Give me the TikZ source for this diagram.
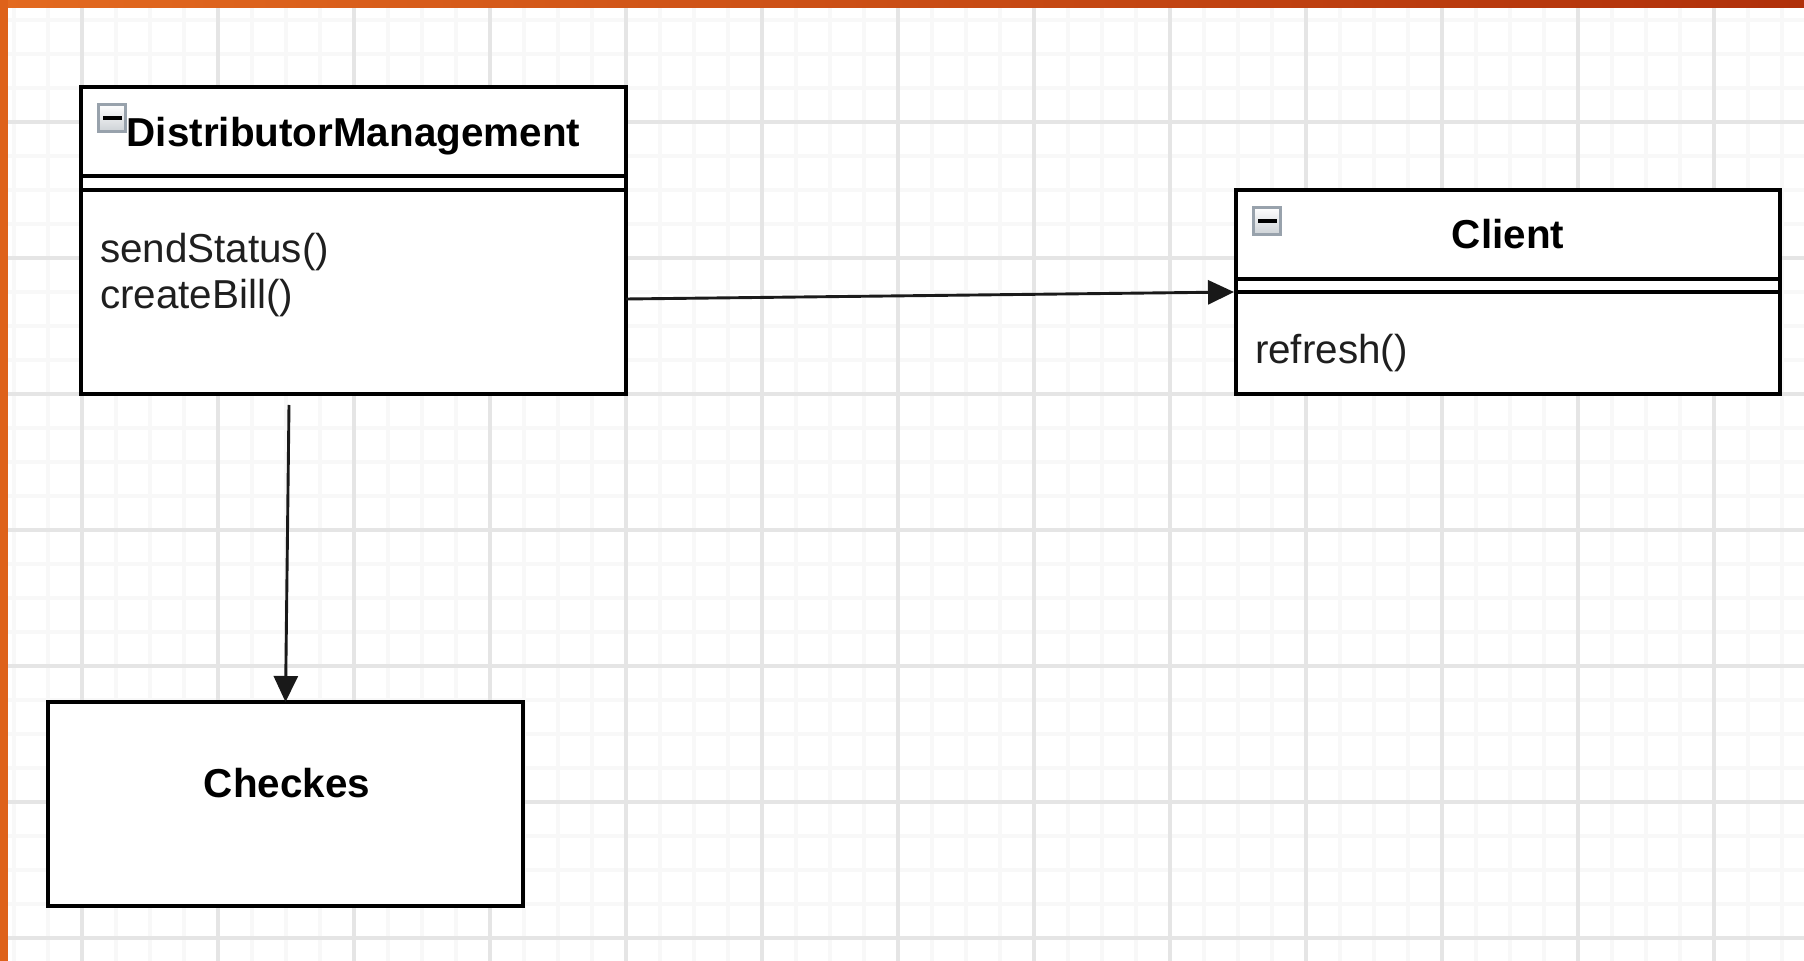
\documentclass[tikz,border=0pt]{standalone}
\usepackage{fontspec}
\setmainfont{Liberation Sans}
\usetikzlibrary{arrows.meta,calc}
\definecolor{gridmajor}{HTML}{E5E5E5}
\definecolor{gridminor}{HTML}{F8F8F8}
\definecolor{orangeA}{HTML}{E36A20}
\definecolor{orangeB}{HTML}{B0300A}
\definecolor{orangeL}{HTML}{DE621A}
\definecolor{iconborder}{HTML}{98A2AC}
\definecolor{iconlow}{HTML}{CDD2D6}
\begin{document}
\begin{tikzpicture}[x=0.5pt,y=-0.5pt,
  umlbox/.style={draw=black, line width=1.8pt, fill=white, rectangle, inner sep=0pt, outer sep=0pt, anchor=north west},
  sepline/.style={line width=1.6pt, draw=black},
  titletext/.style={font=\fontsize{20.2}{24}\selectfont\bfseries, inner sep=0pt, outer sep=0pt, anchor=base, text=black},
  optext/.style={font=\fontsize{20.2}{24}\selectfont, inner sep=0pt, outer sep=0pt, anchor=base west, text=black!88},
  iconbox/.style={draw=iconborder, line width=1.5pt, top color=white, bottom color=iconlow,
    minimum width=13.5pt, minimum height=13.5pt, inner sep=0pt, outer sep=0pt, anchor=north west,
    path picture={\fill[black] ($(path picture bounding box.center)+(-9.5,-2)$) rectangle ($(path picture bounding box.center)+(9.5,2)$);}},
  conn/.style={line width=1.45pt, draw=black!90, -{Triangle[length=13pt,width=12pt]}},
  minorline/.style={draw=gridminor, line width=1.6pt},
  majorline/.style={draw=gridmajor, line width=1.9pt},
]
\useasboundingbox (0,0) rectangle (1804,961);
\fill[white] (0,0) rectangle (1804,961);
% grid
\foreach \i in {0,...,52} \draw[minorline] (14+34*\i,8) -- (14+34*\i,961);
\foreach \i in {0,...,27} \draw[minorline] (8,20+34*\i) -- (1804,20+34*\i);
\foreach \i in {0,...,12} \draw[majorline] (82+136*\i,8) -- (82+136*\i,961);
\foreach \i in {0,...,6} \draw[majorline] (8,122+136*\i) -- (1804,122+136*\i);
% orange frame
\fill[left color=orangeA, right color=orangeB] (0,0) rectangle (1804,8);
\fill[orangeL] (0,0) rectangle (8,961);

% DistributorManagement
\node[umlbox, minimum width=272.5pt, minimum height=153.5pt] (dm) at (81,87) {};
\draw[sepline] ($(dm.north west)+(0,89)$) -- ($(dm.north east)+(0,89)$);
\draw[sepline] ($(dm.north west)+(0,103)$) -- ($(dm.north east)+(0,103)$);
\node[iconbox] (dmicon) at (98.5,104.5) {};
\node[titletext] (dmtitle) at (353.5,147) {DistributorManagement};
\node[optext] (dmop1) at (100,263) {sendStatus()};
\node[optext] (dmop2) at (100,309) {createBill()};

% Client
\node[umlbox, minimum width=272pt, minimum height=102pt] (client) at (1236,190) {};
\draw[sepline] ($(client.north west)+(0,89)$) -- ($(client.north east)+(0,89)$);
\draw[sepline] ($(client.north west)+(0,102)$) -- ($(client.north east)+(0,102)$);
\node[iconbox] (clienticon) at (1253.5,207.5) {};
\node[titletext] (clienttitle) at (1508,249) {Client};
\node[optext] (clientop1) at (1255,364) {refresh()};

% Checkes
\node[umlbox, minimum width=237.5pt, minimum height=102pt] (checkes) at (48,702) {};
\node[titletext] (checkestitle) at (287,798) {Checkes};

% connectors
\coordinate (dmout) at ($(dm.north east)+(0,212)$);
\coordinate (dmdown) at ($(dm.south west)+(208,11)$);
\draw[conn, shorten >=1pt] (dmout) -- (client.west);
\draw[conn] (dmdown) -- (checkes.north);
\end{tikzpicture}
\end{document}
